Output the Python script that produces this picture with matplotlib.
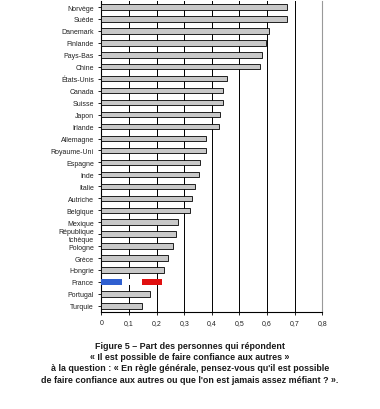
import numpy as np
import matplotlib.pyplot as plt

countries = ['Norvège', 'Suède', 'Danemark', 'Finlande', 'Pays-Bas', 'Chine',
             'États-Unis', 'Canada', 'Suisse', 'Japon', 'Irlande', 'Allemagne',
             'Royaume-Uni', 'Espagne', 'Inde', 'Italie', 'Autriche', 'Belgique',
             'Mexique', 'République\ntchèque', 'Pologne', 'Grèce', 'Hongrie',
             'France', 'Portugal', 'Turquie']
values = [0.671, 0.671, 0.606, 0.596, 0.583, 0.573, 0.456, 0.442, 0.442, 0.431,
          0.425, 0.378, 0.378, 0.357, 0.355, 0.340, 0.327, 0.322, 0.276, 0.269,
          0.258, 0.240, 0.226, 0.219, 0.175, 0.146]
xticks = [0, 0.1, 0.2, 0.3, 0.4, 0.5, 0.6, 0.7, 0.8]

plt.rcParams['font.family'] = ['Liberation Sans', 'DejaVu Sans']

fig = plt.figure(figsize=(3.8, 4.1), dpi=100)
ax = fig.add_axes([0.267, 0.237, 0.581, 0.758])

y = np.arange(len(countries))
for yi, name, v in zip(y, countries, values):
    if name == 'France':
        # French flag bar: blue / white / red thirds
        third = v / 3
        for k, col in enumerate(['#2f5fd0', 'white', '#e01010']):
            ax.barh(yi, third, left=k * third, height=0.45, color=col,
                    edgecolor='none', zorder=3)
    else:
        ax.barh(yi, v, height=0.45, color='#c8c8c8', edgecolor='black',
                linewidth=0.6, zorder=3)

ax.set_ylim(len(countries) - 0.5, -0.5)
ax.set_xlim(0, 0.8)
ax.set_yticks(y)
ax.set_yticklabels(countries, fontsize=5, color='#222222', linespacing=1.15)
ax.set_xticks(xticks)
ax.set_xticklabels([f'{t:g}'.replace('.', ',') for t in xticks], fontsize=5,
                   color='#222222')
ax.tick_params(axis='both', length=2.5, width=0.6, pad=3)
for t in xticks[1:-1]:
    ax.axvline(t, color='black', linewidth=0.7, zorder=1)
ax.spines['top'].set_visible(False)
ax.spines['right'].set_color('#999999')
ax.spines['left'].set_linewidth(0.8)
ax.spines['bottom'].set_linewidth(0.8)

caption = ("Figure 5 – Part des personnes qui répondent\n"
           "« Il est possible de faire confiance aux autres »\n"
           "à la question : « En règle générale, pensez-vous qu'il est possible\n"
           "de faire confiance aux autres ou que l'on est jamais assez méfiant ? ».")
fig.text(0.5, 0.167, caption, ha='center', va='top', fontsize=6.4,
         color='#1a1a1a', linespacing=1.35, fontweight='bold',
         family=['Liberation Sans Narrow', 'Liberation Sans', 'DejaVu Sans'])

fig.savefig('out.png', dpi=100, facecolor='white')
